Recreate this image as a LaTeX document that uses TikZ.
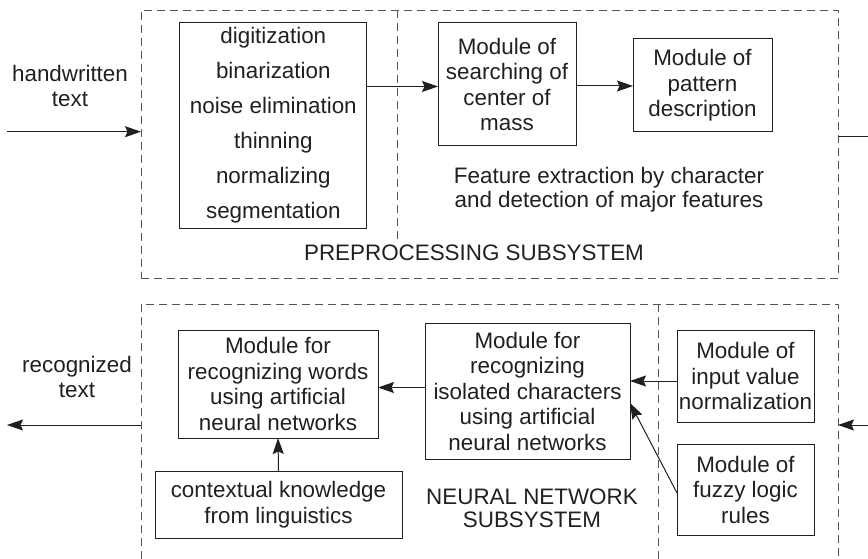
\documentclass[tikz,border=0pt]{standalone}
\usepackage{fontspec}
\setmainfont{Liberation Sans}
\usetikzlibrary{arrows.meta,calc}
\definecolor{ink}{HTML}{231F20}
\definecolor{dashgray}{HTML}{555555}
\tikzset{
  base/.style={font=\fontsize{22.4}{25.5}\selectfont, text=ink},
  modbox/.style={base, draw=ink, line width=1pt, align=center, inner sep=0pt, outer sep=0pt},
  subsys/.style={draw=dashgray, line width=0.9pt, dash pattern=on 8pt off 5pt},
  lbl/.style={base, align=center, inner sep=0pt},
  arr/.style={draw=ink, line width=1pt, -{Stealth[length=16pt,width=11pt,inset=2.5pt]}},
  plain/.style={draw=ink, line width=1pt}
}
\begin{document}
\begin{tikzpicture}[x=1pt,y=-1pt]
\useasboundingbox (0,0) rectangle (868,559);

% subsystem frames
\node[subsys, minimum width=697pt, minimum height=268pt, inner sep=0pt, outer sep=0pt] (pre) at (489.5,144) {};
\coordinate (divtop) at (397,10);
\coordinate (divbot) at (397,240);
\draw[subsys] (divtop) -- (divbot);

\coordinate (nnbl) at (141,559);
\coordinate (nntl) at (141,304);
\coordinate (nntr) at (838,304);
\coordinate (nnbr) at (838,559);
\draw[subsys] (nnbl) -- (nntl) -- (nntr) -- (nnbr);
\coordinate (div2top) at (658,304);
\coordinate (div2bot) at (658,559);
\draw[subsys] (div2top) -- (div2bot);

% modules
\node[modbox, minimum width=186.7pt, minimum height=205pt, font=\fontsize{22.4}{35}\selectfont] (list) at (273.3,125.5)
  {digitization\\binarization\\noise elimination\\thinning\\normalizing\\segmentation};
\node[modbox, minimum width=138pt, minimum height=123pt] (com) at (507,84.5)
  {Module of\\searching of\\center of\\mass};
\node[modbox, minimum width=139pt, minimum height=93pt] (pat) at (702.5,85.5)
  {Module of\\pattern\\description};
\node[modbox, minimum width=200pt, minimum height=108pt] (words) at (278,384)
  {Module for\\recognizing words\\using artificial\\neural networks};
\node[modbox, minimum width=247pt, minimum height=67pt] (ctx) at (278.5,504.5)
  {contextual knowledge\\from linguistics};
\node[modbox, minimum width=205pt, minimum height=136pt] (iso) at (527.5,391)
  {Module for\\recognizing\\isolated characters\\using artificial\\neural networks};
\node[modbox, minimum width=137pt, minimum height=92pt] (inp) at (745.5,376)
  {Module of\\input value\\normalization};
\node[modbox, minimum width=137pt, minimum height=91pt] (fuz) at (745.5,489.5)
  {Module of\\fuzzy logic\\rules};

% labels
\node[lbl] (hw) at (70,86) {handwritten\\text};
\node[lbl] (rt) at (77,377) {recognized\\text};
\node[lbl, font=\fontsize{22.4}{24}\selectfont] (fe) at (609,190) {Feature extraction by character\\and detection of major features};
\node[lbl] (prel) at (474,253) {PREPROCESSING SUBSYSTEM};
\node[lbl, font=\fontsize{22.4}{23.5}\selectfont] (nnl) at (532,508.5) {NEURAL NETWORK\\SUBSYSTEM};

% connectors
\coordinate (hwstart) at (7,131.7);
\draw[arr] (hwstart) -- (hwstart -| pre.west);
\draw[arr] (list.east |- 0,86.5) -- (com.west |- 0,86.5);
\draw[arr] (com.east |- 0,86) -- (pat.west |- 0,86);
\coordinate (outR) at (868,137);
\draw[plain] (pre.east |- outR) -- (outR);

\coordinate (inR) at (868,425);
\draw[arr] (inR) -- (nntr |- inR);
\draw[arr] (inp.west |- 0,381) -- (iso.east |- 0,381);
\draw[arr] (fuz.west |- 0,493) -- (iso.east |- 0,403);
\draw[arr] (iso.west |- 0,387.5) -- (words.east |- 0,387.5);
\draw[arr] (ctx.north) -- (words.south);
\coordinate (rtend) at (7,425);
\draw[arr] (nntl |- rtend) -- (rtend);
\end{tikzpicture}
\end{document}
